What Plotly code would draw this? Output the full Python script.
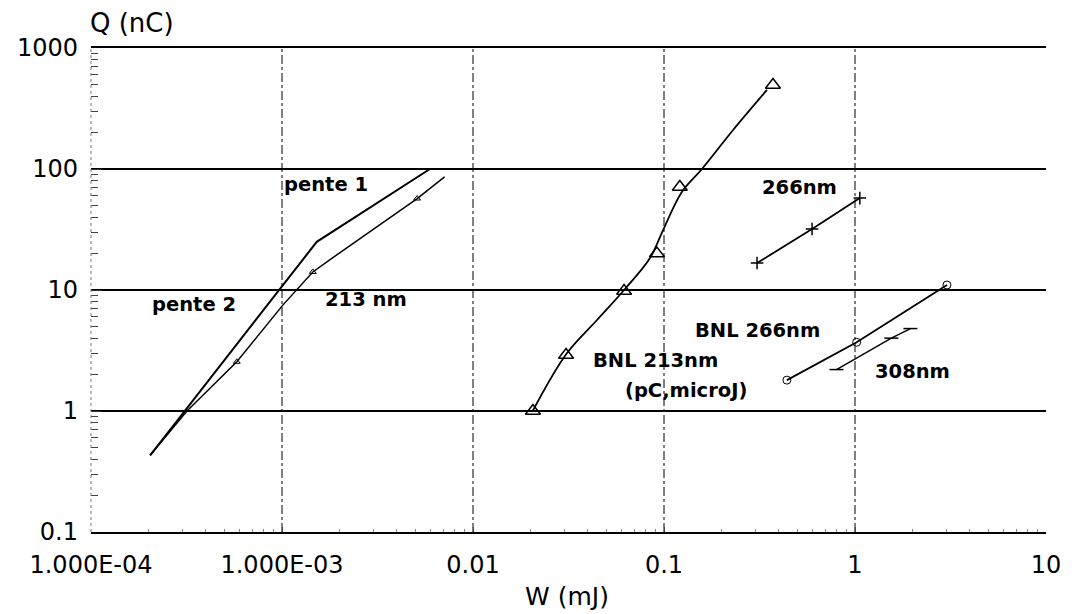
import numpy as np
import plotly.graph_objects as go

# ---- data (W in mJ, Q in nC) ----
w_pente1 = [2.04e-4, 1.52e-3, 5.95e-3]
q_pente1 = [0.43, 25, 100]

w_213 = [2.04e-4, 3.18e-4, 5.8e-4, 1.01e-3, 1.45e-3, 1.8e-3, 5.1e-3, 7.1e-3]
q_213 = [0.43, 1.0, 2.55, 7.5, 14.1, 18.0, 57, 86]

# BNL 213nm measured points (triangles)
w_bnl213 = [0.0206, 0.0307, 0.0618, 0.0918, 0.121, 0.372]
q_bnl213 = [1.0, 2.9, 9.8, 20, 71, 494]
# BNL 213nm drawn curve
w_bnl213_curve = [0.0206, 0.0310, 0.0446, 0.0618, 0.0845, 0.0989, 0.124, 0.158, 0.23, 0.346]
q_bnl213_curve = [1.01, 3.0, 5.65, 10, 18.4, 31.3, 64.6, 100, 210, 450]

w_266 = [0.307, 0.596, 1.06]
q_266 = [16.7, 31.9, 57.5]

w_bnl266 = [0.44, 1.02, 3.03]
q_bnl266 = [1.8, 3.7, 11.0]

w_308 = [0.80, 1.55, 1.95]
q_308 = [2.2, 4.0, 4.8]

x_tickvals = [1e-4, 1e-3, 1e-2, 1e-1, 1, 10]
x_ticktext = ["1.000E-04", "1.000E-03", "0.01", "0.1", "1", "10"]
y_tickvals = [0.1, 1, 10, 100, 1000]
y_ticktext = ["0.1", "1", "10", "100", "1000"]
x_gridvals = [1e-3, 1e-2, 1e-1, 1]

label_text = ["pente 1", "pente 2", "213 nm", "266nm", "BNL 266nm",
              "BNL 213nm", "(pC,microJ)", "308nm"]
label_w = [1.70e-3, 3.46e-4, 2.75e-3, 0.51, 0.307, 0.0898, 0.130, 1.99]
label_q = [75, 7.65, 8.3, 71, 4.6, 2.59, 1.49, 2.14]

FONT = "DejaVu Sans"
fig = go.Figure()

fig.add_trace(go.Scatter(x=w_pente1, y=q_pente1, mode="lines",
                         line=dict(color="black", width=2), name="pente 1"))
fig.add_trace(go.Scatter(x=w_213, y=q_213, mode="lines",
                         line=dict(color="black", width=1.5), name="213 nm"))
fig.add_trace(go.Scatter(x=[w_213[2], w_213[4], w_213[6]], y=[q_213[2], q_213[4], q_213[6]],
                         mode="markers",
                         marker=dict(symbol="triangle-up-open", size=6, color="black",
                                     line=dict(width=1)), name="213 nm pts"))
fig.add_trace(go.Scatter(x=w_bnl213_curve, y=q_bnl213_curve, mode="lines",
                         line=dict(color="black", width=1.8, shape="spline", smoothing=1.0),
                         name="BNL 213nm curve"))
fig.add_trace(go.Scatter(x=w_bnl213, y=q_bnl213, mode="markers",
                         marker=dict(symbol="triangle-up-open", size=13, color="black",
                                     line=dict(width=1.5)), name="BNL 213nm"))
fig.add_trace(go.Scatter(x=w_266, y=q_266, mode="lines+markers",
                         line=dict(color="black", width=1.8),
                         marker=dict(symbol="cross-thin-open", size=9, color="black",
                                     line=dict(width=1.5)), name="266nm"))
fig.add_trace(go.Scatter(x=w_bnl266, y=q_bnl266, mode="lines+markers",
                         line=dict(color="black", width=1.8),
                         marker=dict(symbol="circle-open", size=8, color="black",
                                     line=dict(width=1)), name="BNL 266nm"))
fig.add_trace(go.Scatter(x=w_308, y=q_308, mode="lines+markers",
                         line=dict(color="black", width=1.5),
                         marker=dict(symbol="line-ew-open", size=10, color="black",
                                     line=dict(width=1.5)), name="308nm"))

# vertical dashed grid lines
for v in x_gridvals:
    fig.add_shape(type="line", xref="x", yref="paper", x0=v, x1=v, y0=0, y1=1,
                  line=dict(color="black", width=1, dash="dashdot"), layer="below")
# faint left axis line
fig.add_shape(type="line", xref="paper", yref="paper", x0=0, x1=0, y0=0, y1=1,
              line=dict(color="#777777", width=1, dash="dot"))

for t, xv, yv in zip(label_text, label_w, label_q):
    fig.add_annotation(x=np.log10(xv), y=np.log10(yv), text=t, showarrow=False,
                       font=dict(family=FONT, size=19.5, color="black", weight="bold"),
                       xanchor="center", yanchor="middle")

fig.add_annotation(xref="paper", yref="paper", x=-0.003, y=1.052, text="Q (nC)",
                   showarrow=False, xanchor="left", yanchor="middle",
                   font=dict(family=FONT, size=26, color="black"))
fig.add_annotation(xref="paper", yref="paper", x=0.498, y=-0.134, text="W (mJ)",
                   showarrow=False, xanchor="center", yanchor="middle",
                   font=dict(family=FONT, size=25, color="black"))

minor_y = [k * 10.0 ** e for e in range(-1, 3) for k in range(2, 10)]
minor_x = [k * 10.0 ** e for e in range(-4, 1) for k in range(2, 10)]

fig.update_xaxes(type="log", range=[-4, 1], tickvals=x_tickvals, ticktext=x_ticktext,
                 showgrid=False, zeroline=False,
                 showline=True, mirror=True, linecolor="black", linewidth=1.5,
                 ticks="inside", ticklen=5, tickcolor="#444444",
                 minor=dict(tickvals=minor_x, ticks="inside", ticklen=3,
                            tickcolor="#888888", showgrid=False),
                 tickfont=dict(family=FONT, size=24, color="black"),
                 ticklabelstandoff=10)
fig.update_yaxes(type="log", range=[-1, 3], tickvals=y_tickvals, ticktext=y_ticktext,
                 showgrid=True, gridcolor="black", gridwidth=1.5, zeroline=False,
                 showline=False,
                 ticks="inside", ticklen=10, tickcolor="#333333",
                 minor=dict(tickvals=minor_y, ticks="inside", ticklen=7,
                            tickcolor="#444444", showgrid=False),
                 tickfont=dict(family=FONT, size=24, color="black"),
                 ticklabelstandoff=12)

fig.update_layout(width=1074, height=614, showlegend=False,
                  margin=dict(l=91, r=28, t=48, b=82),
                  plot_bgcolor="white", paper_bgcolor="white")

fig.write_html("out.html", config={"displayModeBar": False},
               post_script="document.body.style.margin='0px';")
